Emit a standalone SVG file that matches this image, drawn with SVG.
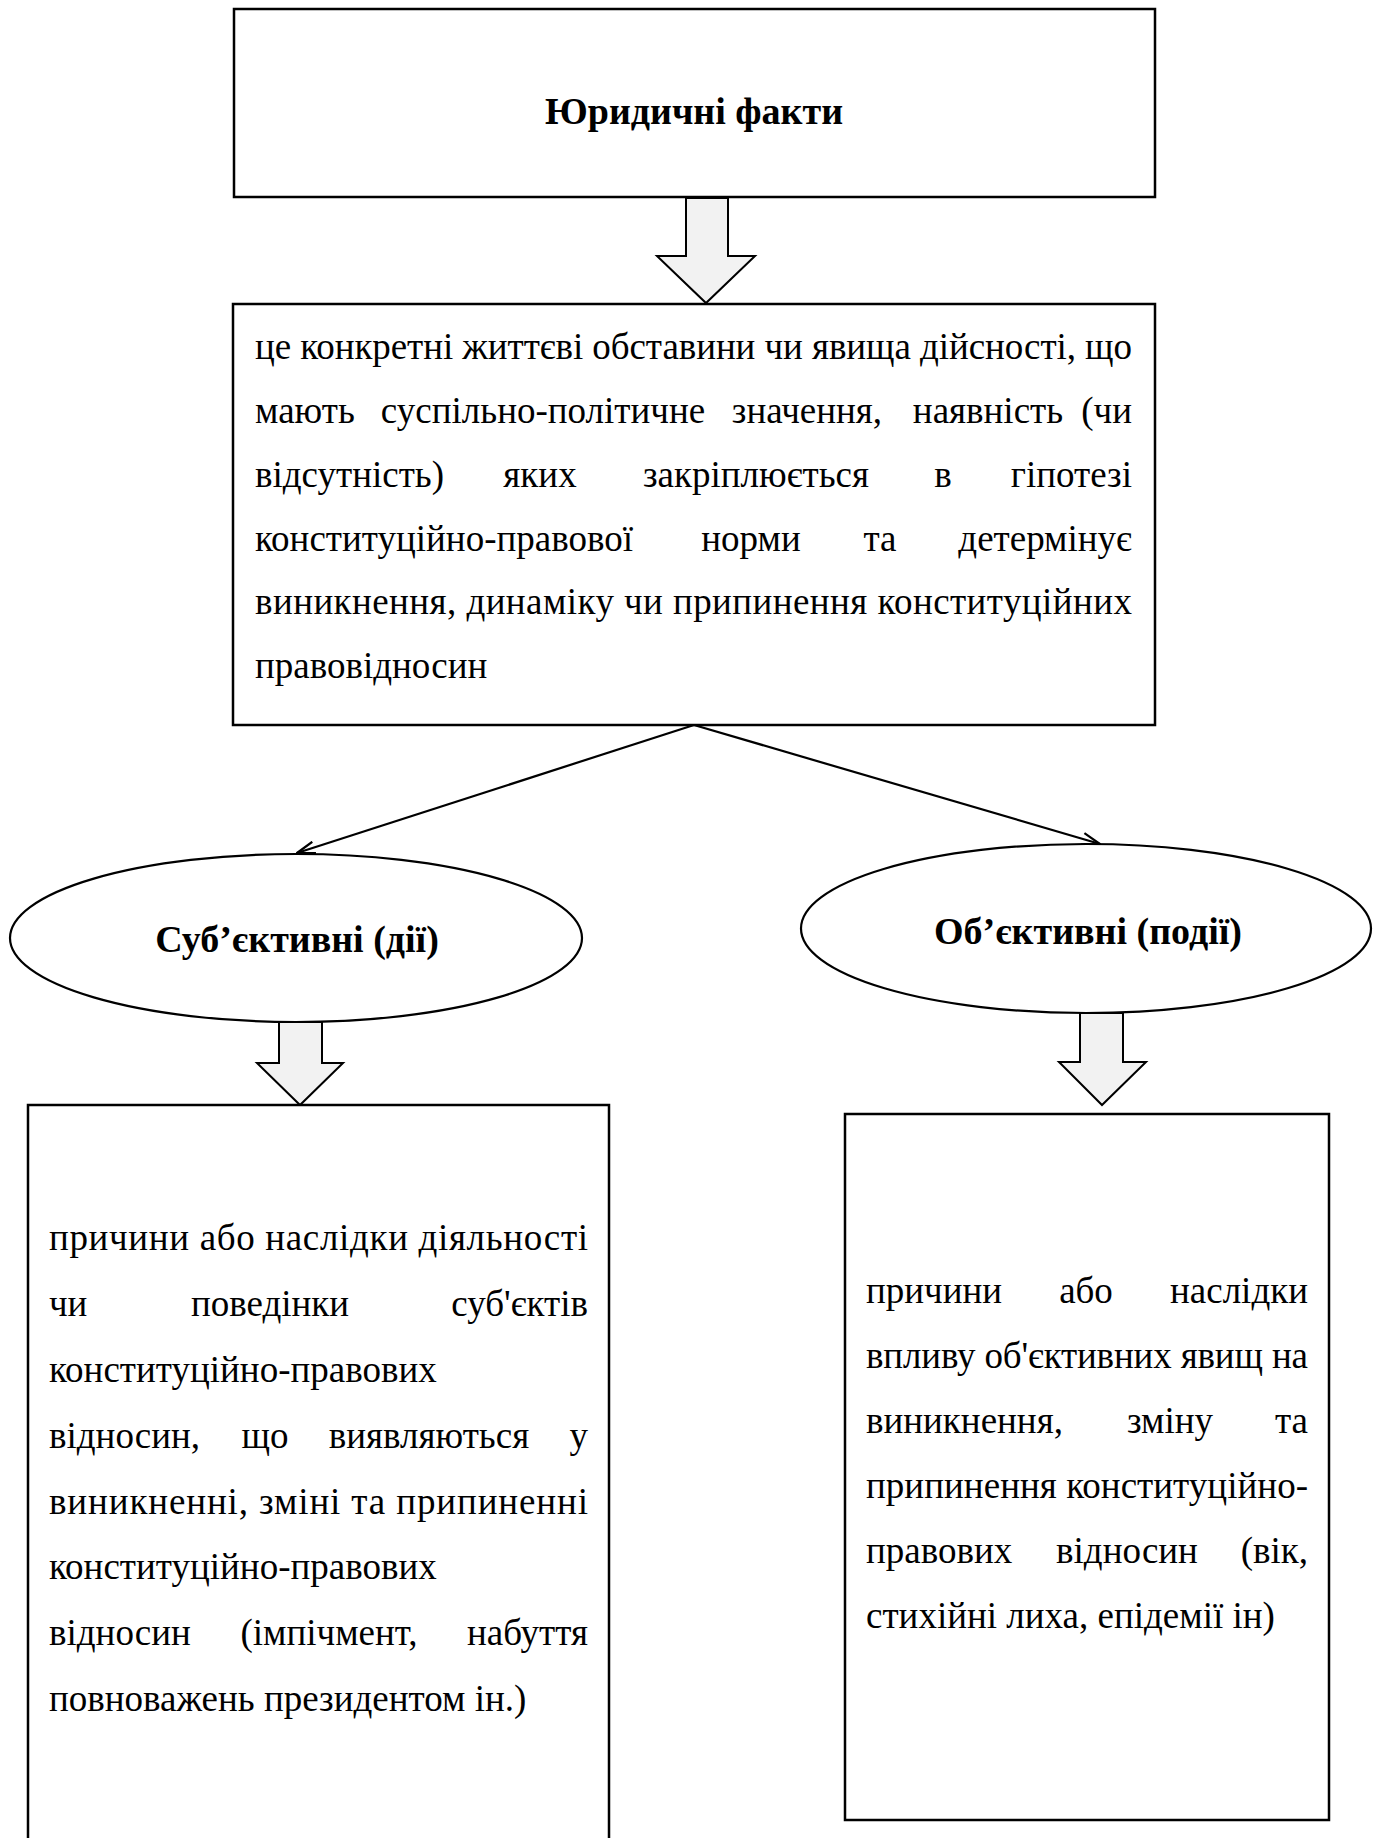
<svg xmlns="http://www.w3.org/2000/svg" width="1381" height="1838" viewBox="0 0 1381 1838">
<defs>
<style>
.box{fill:#fff;stroke:#000;stroke-width:2.5}
.ell{fill:#fff;stroke:#000;stroke-width:2.2}
.blk{fill:#f2f2f2;stroke:#000;stroke-width:2;stroke-linejoin:miter}
.con{stroke:#000;stroke-width:2.2;fill:none}
.m{text-anchor:middle}
.e{text-anchor:end}
</style>
<marker id="ah" viewBox="0 0 20 14" refX="19" refY="7" markerWidth="20" markerHeight="14" markerUnits="userSpaceOnUse" orient="auto">
<path d="M1,1 L19,7 L1,13" fill="none" stroke="#000" stroke-width="2.2"/>
</marker>
</defs>
<rect width="1381" height="1838" fill="#fff"/>

<g id="connectors">
<line class="con" x1="694" y1="725" x2="297" y2="853" marker-end="url(#ah)"/>
<line class="con" x1="694" y1="725" x2="1100" y2="844" marker-end="url(#ah)"/>
<polygon class="blk" points="686,198 728,198 728,256 755,256 706,303 657,256 686,256"/>
<polygon class="blk" points="279,1022 322,1022 322,1063 343,1063 300,1105 257,1063 279,1063"/>
<polygon class="blk" points="1080,1013 1123,1013 1123,1062 1146,1062 1102,1105 1059,1062 1080,1062"/>
</g>

<g id="node-title" font-family="Liberation Serif, serif" font-size="38" font-weight="bold" text-anchor="middle">
<rect class="box" x="234" y="9" width="921" height="188"/>
<text x="694" y="124">Юридичні факти</text>
</g>

<g id="node-definition" font-family="Liberation Serif, serif" font-size="37">
<rect class="box" x="233" y="304" width="922" height="421"/>
<text x="255" y="359" textLength="877" lengthAdjust="spacing">це конкретні життєві обставини чи явища дійсності, що</text>
<text y="423"><tspan x="255">мають</tspan><tspan class="m" x="543">суспільно-політичне</tspan><tspan class="m" x="807">значення,</tspan><tspan class="m" x="988">наявність</tspan><tspan class="e" x="1132">(чи</tspan></text>
<text y="487"><tspan x="255">відсутність)</tspan><tspan class="m" x="540">яких</tspan><tspan class="m" x="756">закріплюється</tspan><tspan class="m" x="943">в</tspan><tspan class="e" x="1132">гіпотезі</tspan></text>
<text y="551"><tspan x="255">конституційно-правової</tspan><tspan class="m" x="751">норми</tspan><tspan class="m" x="880">та</tspan><tspan class="e" x="1132">детермінує</tspan></text>
<text x="255" y="614" textLength="877" lengthAdjust="spacing">виникнення, динаміку чи припинення конституційних</text>
<text x="255" y="678">правовідносин</text>
</g>

<g id="node-subjective" font-family="Liberation Serif, serif" font-size="38" font-weight="bold" text-anchor="middle">
<ellipse class="ell" cx="296" cy="938" rx="286" ry="84"/>
<text x="297" y="952">Суб’єктивні (дії)</text>
</g>

<g id="node-objective" font-family="Liberation Serif, serif" font-size="38" font-weight="bold" text-anchor="middle">
<ellipse class="ell" cx="1086" cy="928.5" rx="285" ry="84.5"/>
<text x="1088" y="944">Об’єктивні (події)</text>
</g>

<g id="node-subjective-desc" font-family="Liberation Serif, serif" font-size="37">
<rect class="box" x="28" y="1105" width="581" height="760"/>
<text x="49" y="1250" textLength="539" lengthAdjust="spacing">причини або наслідки діяльності</text>
<text y="1316"><tspan x="49">чи</tspan><tspan class="m" x="270">поведінки</tspan><tspan class="e" x="588">суб'єктів</tspan></text>
<text x="49" y="1382">конституційно-правових</text>
<text y="1448"><tspan x="49">відносин,</tspan><tspan class="m" x="265">що</tspan><tspan class="m" x="429">виявляються</tspan><tspan class="e" x="588">у</tspan></text>
<text x="49" y="1514" textLength="539" lengthAdjust="spacing">виникненні, зміні та припиненні</text>
<text x="49" y="1579">конституційно-правових</text>
<text y="1645"><tspan x="49">відносин</tspan><tspan class="m" x="329">(імпічмент,</tspan><tspan class="e" x="588">набуття</tspan></text>
<text x="49" y="1711">повноважень президентом ін.)</text>
</g>

<g id="node-objective-desc" font-family="Liberation Serif, serif" font-size="37">
<rect class="box" x="845" y="1114" width="484" height="706"/>
<text y="1303"><tspan x="866">причини</tspan><tspan class="m" x="1086">або</tspan><tspan class="e" x="1308">наслідки</tspan></text>
<text x="866" y="1368" textLength="442" lengthAdjust="spacing">впливу об'єктивних явищ на</text>
<text y="1433"><tspan x="866">виникнення,</tspan><tspan class="m" x="1170">зміну</tspan><tspan class="e" x="1308">та</tspan></text>
<text x="866" y="1498" textLength="442" lengthAdjust="spacing">припинення конституційно-</text>
<text y="1563"><tspan x="866">правових</tspan><tspan class="m" x="1127">відносин</tspan><tspan class="e" x="1308">(вік,</tspan></text>
<text x="866" y="1628">стихійні лиха, епідемії ін)</text>
</g>
</svg>
